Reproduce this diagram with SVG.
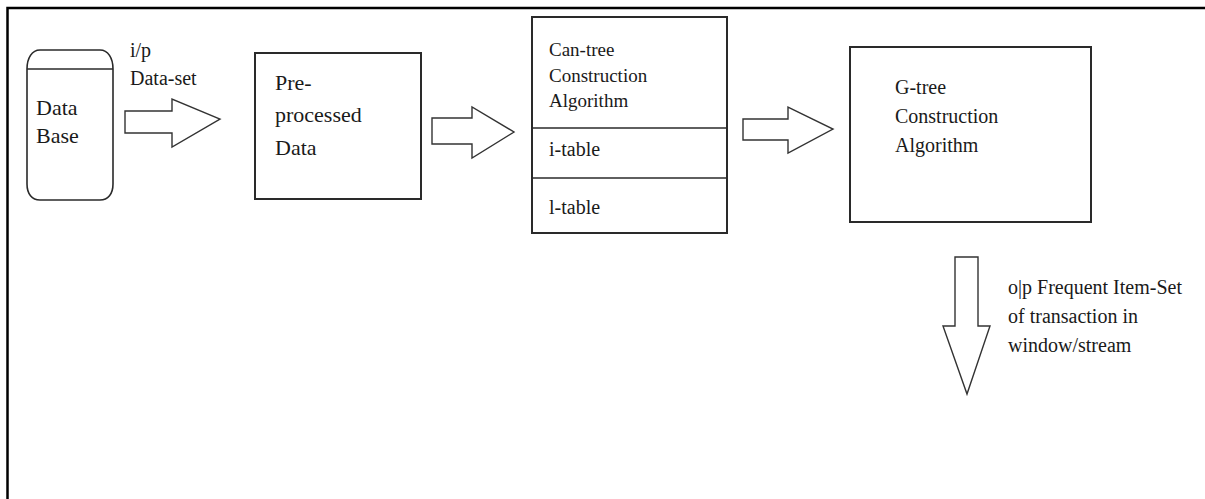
<svg xmlns="http://www.w3.org/2000/svg" width="1205" height="499" viewBox="0 0 1205 499">
<style>
.ln{fill:none;stroke:#2a2a2a;stroke-width:1.6}
.box{fill:#fff;stroke:#2a2a2a;stroke-width:2}
.arr{fill:#fff;stroke:#333;stroke-width:1.4;stroke-linejoin:miter}
text{font-family:"Liberation Serif","Times New Roman",serif;fill:#1a1a1a}
.t22{font-size:22px}
.t20{font-size:20px}
.t19{font-size:19px}
</style>
<rect x="0" y="0" width="1205" height="499" fill="#fff"/>
<path d="M7.5,499 L7.5,8 L1205,8" fill="none" stroke="#000" stroke-width="2.5"/>
<g id="database">
<path class="ln" d="M27,69 C27,58 32,50 40,50 L100,50 C108,50 113,58 113,69 L113,184 C113,194 108,200 100,200 L40,200 C32,200 27,194 27,184 Z"/>
<path class="ln" d="M27,69 L113,69" stroke-width="2"/>
<text class="t22" x="36" y="115">Data</text>
<text class="t22" x="36" y="143">Base</text>
</g>
<g id="preprocessed">
<rect class="box" x="255" y="53" width="166" height="146"/>
<text class="t22" x="275" y="90">Pre-</text>
<text class="t22" x="275" y="122">processed</text>
<text class="t22" x="275" y="155">Data</text>
</g>
<g id="cantree">
<rect class="box" x="532" y="17" width="195" height="216"/>
<line class="ln" x1="532" y1="128" x2="727" y2="128" stroke-width="2"/>
<line class="ln" x1="532" y1="178" x2="727" y2="178" stroke-width="2"/>
<text class="t19" x="549" y="56">Can-tree</text>
<text class="t19" x="549" y="82">Construction</text>
<text class="t19" x="549" y="107">Algorithm</text>
<text class="t20" x="549" y="156">i-table</text>
<text class="t20" x="549" y="214">l-table</text>
</g>
<g id="gtree">
<rect class="box" x="850" y="47" width="241" height="175"/>
<text class="t20" x="895" y="94">G-tree</text>
<text class="t20" x="895" y="123">Construction</text>
<text class="t20" x="895" y="152">Algorithm</text>
</g>
<g id="connectors">
<path class="arr" d="M125,111 L172,111 L172,99 L220,119 L172,147 L172,133 L125,133 Z"/>
<text class="t20" x="130" y="57">i/p</text>
<text class="t20" x="130" y="85">Data-set</text>
<path class="arr" d="M432,118 L472,118 L472,107 L514,132 L472,158 L472,144 L432,144 Z"/>
<path class="arr" d="M743,119 L788,119 L788,107 L833,129 L788,153 L788,140 L743,140 Z"/>
<path class="arr" d="M955,257 L978,257 L978,326 L990,326 L967,394 L943,326 L955,326 Z"/>
<text class="t20" x="1008" y="294">o|p Frequent Item-Set</text>
<text class="t20" x="1008" y="323">of transaction in</text>
<text class="t20" x="1008" y="352">window/stream</text>
</g>
</svg>
